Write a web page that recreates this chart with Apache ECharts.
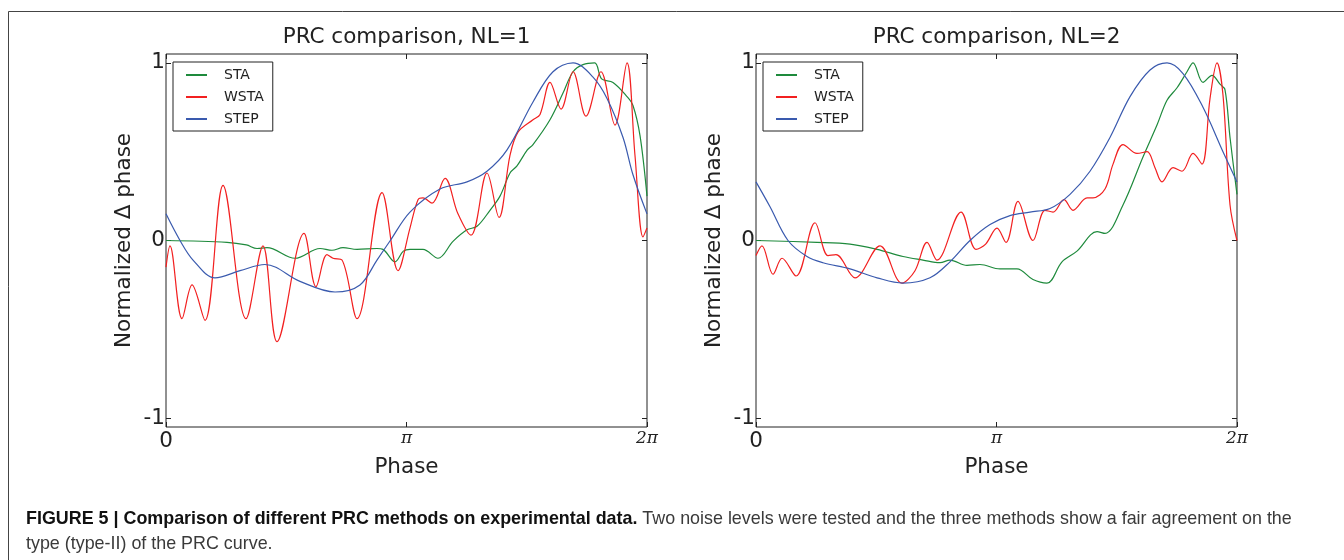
<!DOCTYPE html>
<html>
<head>
<meta charset="utf-8">
<script src="https://cdn.jsdelivr.net/npm/echarts@6/dist/echarts.min.js"></script>
<style>html,body{margin:0;padding:0;background:#fff;}#c{width:1344px;height:560px;}</style>
</head>
<body>
<div id="c"></div>
<script>
// ---- data (phase in radians, normalized Δ phase) ----
const seriesNames = ['STA', 'WSTA', 'STEP'];
const panelTitles = ['PRC comparison, NL=1', 'PRC comparison, NL=2'];
const xTickValues = [0, Math.PI, 2 * Math.PI];
const xTickLabels = ['0', 'π', '2π'];
const yTickValues = [-1, 0, 1];
const yTickLabels = ['-1', '0', '1'];

const nl1_STA = [[0,0.0],[0.797,-0.01],[1.05,-0.025],[1.189,-0.045],[1.319,-0.04],[1.685,-0.1],[2.012,-0.045],[2.168,-0.055],[2.312,-0.04],[2.495,-0.05],[2.756,-0.045],[2.835,-0.05],[2.991,-0.12],[3.10,-0.06],[3.187,-0.05],[3.357,-0.05],[3.553,-0.1],[3.749,-0.005],[3.932,0.06],[4.063,0.08],[4.232,0.17],[4.363,0.25],[4.494,0.38],[4.585,0.42],[4.72,0.51],[4.794,0.54],[5.016,0.68],[5.186,0.83],[5.317,0.95],[5.447,0.99],[5.60,1.0],[5.69,0.91],[5.839,0.89],[6.022,0.81],[6.100,0.76],[6.192,0.59],[6.283,0.25]];
const nl1_WSTA = [[0,-0.15],[0.052,-0.03],[0.209,-0.44],[0.340,-0.25],[0.509,-0.45],[0.745,0.31],[1.045,-0.44],[1.267,-0.03],[1.450,-0.57],[1.803,0.04],[1.959,-0.26],[2.103,-0.08],[2.181,-0.10],[2.299,-0.11],[2.495,-0.44],[2.822,0.27],[3.031,-0.17],[3.187,0.07],[3.292,0.23],[3.357,0.24],[3.475,0.21],[3.645,0.35],[3.814,0.15],[3.984,0.03],[4.193,0.38],[4.350,0.13],[4.494,0.48],[4.598,0.61],[4.794,0.68],[4.886,0.71],[5.016,0.89],[5.160,0.74],[5.317,0.95],[5.486,0.70],[5.682,0.95],[5.865,0.65],[6.022,1.0],[6.126,0.48],[6.231,0.02],[6.283,0.07]];
const nl1_STEP = [[0,0.15],[0.183,0.0],[0.353,-0.11],[0.640,-0.21],[0.967,-0.17],[1.293,-0.135],[1.75,-0.23],[2.208,-0.29],[2.534,-0.25],[2.756,-0.11],[2.93,0.0],[3.187,0.16],[3.579,0.29],[3.932,0.33],[4.193,0.39],[4.455,0.51],[4.794,0.78],[5.055,0.95],[5.317,1.0],[5.578,0.92],[5.761,0.80],[5.97,0.58],[6.10,0.37],[6.283,0.15]];

const nl2_STA = [[0,0.0],[0.797,-0.01],[1.228,-0.02],[1.581,-0.05],[1.920,-0.09],[2.181,-0.11],[2.404,-0.125],[2.534,-0.11],[2.756,-0.14],[2.926,-0.135],[3.187,-0.16],[3.409,-0.16],[3.618,-0.22],[3.801,-0.24],[3.997,-0.12],[4.193,-0.06],[4.455,0.05],[4.559,0.04],[4.794,0.20],[5.055,0.47],[5.238,0.65],[5.369,0.79],[5.500,0.86],[5.630,0.95],[5.709,1.0],[5.839,0.89],[5.957,0.93],[6.061,0.88],[6.126,0.85],[6.192,0.58],[6.283,0.26]];
const nl2_WSTA = [[0,-0.085],[0.078,-0.03],[0.222,-0.19],[0.340,-0.10],[0.523,-0.20],[0.771,0.10],[0.941,-0.085],[1.045,-0.08],[1.293,-0.21],[1.620,-0.03],[1.907,-0.24],[2.077,-0.17],[2.234,-0.01],[2.364,-0.11],[2.678,0.16],[2.874,-0.05],[3.0,-0.02],[3.148,0.07],[3.266,-0.01],[3.422,0.22],[3.618,0.0],[3.775,0.17],[3.880,0.16],[4.023,0.23],[4.141,0.17],[4.324,0.24],[4.402,0.24],[4.559,0.29],[4.664,0.43],[4.794,0.54],[4.977,0.49],[5.108,0.50],[5.212,0.41],[5.304,0.33],[5.448,0.41],[5.565,0.39],[5.709,0.49],[5.826,0.43],[5.931,0.80],[6.022,1.0],[6.100,0.82],[6.192,0.20],[6.283,0.0]];
const nl2_STEP = [[0,0.33],[0.183,0.19],[0.418,0.0],[0.666,-0.09],[0.875,-0.125],[1.228,-0.16],[1.581,-0.21],[1.920,-0.24],[2.273,-0.21],[2.534,-0.12],[2.795,0.0],[3.057,0.09],[3.318,0.14],[3.579,0.16],[3.840,0.18],[4.102,0.26],[4.363,0.39],[4.624,0.58],[4.886,0.81],[5.147,0.96],[5.369,1.0],[5.578,0.94],[5.839,0.75],[6.100,0.50],[6.283,0.33]];

const captionBold = 'FIGURE 5 | Comparison of different PRC methods on experimental data.';
const captionLine1 = ' Two noise levels were tested and the three methods show a fair agreement on the';
const captionLine2 = 'type (type-II) of the PRC curve.';

// ---- styling ----
const colors = { STA: '#1e8a3c', WSTA: '#f22020', STEP: '#3a5aae' };
const FONT = 'DejaVu Sans';
const FS = 21.5;
const panels = [
  { left: 166, data: { STA: nl1_STA, WSTA: nl1_WSTA, STEP: nl1_STEP } },
  { left: 756, data: { STA: nl2_STA, WSTA: nl2_WSTA, STEP: nl2_STEP } }
];
const PW = 481, PT = 54, PH = 373;

const grid = [], xAxis = [], yAxis = [], series = [], legend = [], graphic = [];
const tickLen = 5;
const tickStyle = { color: '#222', width: 1 };
panels.forEach((p, i) => {
  grid.push({ left: p.left, top: PT, width: PW, height: PH, show: true, borderColor: '#222', borderWidth: 1, backgroundColor: '#fff', containLabel: false });
  const xb = xAxis.length;
  xAxis.push({
    type: 'value', gridIndex: i, min: 0, max: 2 * Math.PI, position: 'bottom',
    name: 'Phase', nameLocation: 'middle', nameGap: 20,
    nameTextStyle: { fontFamily: FONT, fontSize: FS, color: '#222' },
    axisLine: { show: false, onZero: false }, splitLine: { show: false },
    axisTick: { show: true, inside: true, length: tickLen, lineStyle: tickStyle, customValues: xTickValues },
    axisLabel: {
      show: true, margin: 3, customValues: xTickValues,
      formatter: v => { const k = xTickValues.findIndex(t => Math.abs(t - v) < 1e-6); const s = xTickLabels[k]; return s === '0' ? '{s|0}' : '{m|' + s + '}'; },
      rich: {
        s: { fontFamily: FONT, fontSize: FS, color: '#222' },
        m: { fontFamily: 'DejaVu Serif', fontStyle: 'italic', fontSize: 17, color: '#222', padding: [0, 0, 4, 0] }
      }
    }
  });
  xAxis.push({
    type: 'value', gridIndex: i, min: 0, max: 2 * Math.PI, position: 'top',
    axisLine: { show: false, onZero: false }, splitLine: { show: false }, axisLabel: { show: false },
    axisTick: { show: true, inside: true, length: tickLen, lineStyle: tickStyle, customValues: xTickValues }
  });
  const yb = yAxis.length;
  yAxis.push({
    type: 'value', gridIndex: i, min: -1.05, max: 1.05, position: 'left',
    name: 'Normalized \u0394 phase', nameLocation: 'middle', nameGap: 31,
    nameTextStyle: { fontFamily: FONT, fontSize: FS, color: '#222' },
    axisLine: { show: false, onZero: false }, splitLine: { show: false },
    axisTick: { show: true, inside: true, length: tickLen, lineStyle: tickStyle, customValues: yTickValues },
    axisLabel: {
      show: true, margin: 1, customValues: yTickValues, fontFamily: FONT, fontSize: FS, color: '#222',
      formatter: v => yTickLabels[yTickValues.findIndex(t => Math.abs(t - v) < 1e-6)]
    }
  });
  yAxis.push({
    type: 'value', gridIndex: i, min: -1.05, max: 1.05, position: 'right',
    axisLine: { show: false, onZero: false }, splitLine: { show: false }, axisLabel: { show: false },
    axisTick: { show: true, inside: true, length: tickLen, lineStyle: tickStyle, customValues: yTickValues }
  });
  seriesNames.forEach(n => {
    series.push({
      name: n, type: 'line', xAxisIndex: xb, yAxisIndex: yb, data: p.data[n],
      smooth: 0.35, symbol: 'none', silent: true, animation: false, clip: true,
      lineStyle: { color: colors[n], width: 1.2 }, itemStyle: { color: colors[n] }
    });
  });
  legend.push({
    orient: 'vertical', left: p.left + 7, top: 62, data: seriesNames,
    itemWidth: 21, itemHeight: 14, itemGap: 8,
    padding: [6, 9, 5, 12], borderColor: '#222', borderWidth: 1, backgroundColor: '#fff', borderRadius: 0,
    itemStyle: { opacity: 0, borderWidth: 0 },
    textStyle: { fontFamily: FONT, fontSize: 14, color: '#222', padding: [0, 0, 0, 12] },
    selectedMode: false
  });
  graphic.push({
    type: 'text', x: p.left + PW / 2, y: 37,
    style: { text: panelTitles[i], fontFamily: FONT, fontSize: FS, fill: '#222', align: 'center', verticalAlign: 'middle' }
  });
});

// outer frame (left and top edges visible)
graphic.push({ type: 'rect', shape: { x: 8.5, y: 11.5, width: 1400, height: 600 }, style: { fill: 'none', stroke: '#444', lineWidth: 1 }, z: -1 });
// caption
const CFS = 17.9;
graphic.push({
  type: 'text', x: 26, y: 519,
  style: {
    text: '{b|' + captionBold + '}{r|' + captionLine1 + '}',
    verticalAlign: 'middle',
    rich: {
      b: { fontFamily: 'Liberation Sans', fontWeight: 'bold', fontSize: CFS, fill: '#111' },
      r: { fontFamily: 'Liberation Sans', fontSize: CFS, fill: '#3a3a3a' }
    }
  }
});
graphic.push({
  type: 'text', x: 26, y: 544,
  style: { text: captionLine2, fontFamily: 'Liberation Sans', fontSize: CFS, fill: '#3a3a3a', verticalAlign: 'middle' }
});

const chart = echarts.init(document.getElementById('c'), null, { renderer: 'canvas' });
chart.setOption({ animation: false, backgroundColor: '#fff', grid, xAxis, yAxis, series, legend, graphic });
</script>
</body>
</html>
